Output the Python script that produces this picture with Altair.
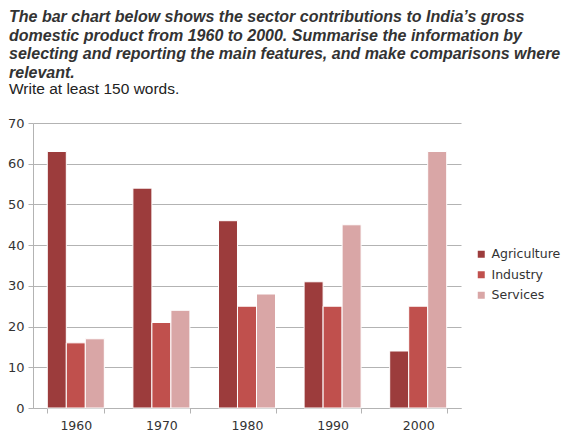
import altair as alt
import pandas as pd

years = ["1960", "1970", "1980", "1990", "2000"]
sectors = ["Agriculture", "Industry", "Services"]
agriculture = [63, 54, 46, 31, 14]
industry = [16, 21, 25, 25, 25]
services = [17, 24, 28, 45, 63]
colors = ["#9c3c3c", "#c0504d", "#d9a6a6"]

title_lines = [
    "The bar chart below shows the sector contributions to India\u2019s gross",
    "domestic product from 1960 to 2000. Summarise the information by",
    "selecting and reporting the main features, and make comparisons where",
    "relevant.",
]
subtitle_text = "Write at least 150 words."

rows = []
for i, y in enumerate(years):
    for s, vals in zip(sectors, [agriculture, industry, services]):
        rows.append({"year": y, "sector": s, "value": vals[i]})
df = pd.DataFrame(rows)

W, H = 428, 285

chart = alt.Chart(df).mark_bar(stroke="white", strokeWidth=1).encode(
    x=alt.X("year:N", sort=years, title=None,
            scale=alt.Scale(paddingInner=0.334, paddingOuter=0.167),
            axis=alt.Axis(labelAngle=0, tickBand="extent", domain=True,
                          domainColor="#b3b3b3", tickColor="#b3b3b3", tickSize=5,
                          labelFont="DejaVu Sans", labelFontSize=12.5,
                          labelColor="#333333", labelPadding=6, grid=False)),
    xOffset=alt.XOffset("sector:N", sort=sectors, scale=alt.Scale(paddingInner=0, paddingOuter=0)),
    y=alt.Y("value:Q", title=None,
            scale=alt.Scale(domain=[0, 70], nice=False),
            axis=alt.Axis(values=[0, 10, 20, 30, 40, 50, 60, 70], grid=True,
                          gridColor="#b3b3b3", domainColor="#b3b3b3",
                          tickColor="#b3b3b3", tickSize=5,
                          labelFont="DejaVu Sans", labelFontSize=13,
                          labelColor="#333333", labelPadding=4)),
    color=alt.Color("sector:N", sort=sectors,
                    scale=alt.Scale(domain=sectors, range=colors),
                    legend=alt.Legend(title=None, orient="none", legendX=442, legendY=125,
                                      symbolType="square", symbolSize=49,
                                      symbolStrokeWidth=0,
                                      labelFont="DejaVu Sans", labelFontSize=12.5,
                                      labelColor="#333333", rowPadding=7.5,
                                      labelOffset=4, padding=0)),
).properties(
    width=W, height=H,
    title=alt.TitleParams(
        text=title_lines, subtitle=subtitle_text,
        anchor="start", frame="group", dx=-24, offset=20,
        font="Liberation Sans", fontSize=16, fontStyle="italic", fontWeight="bold",
        color="#333333", lineHeight=18.5,
        subtitleFont="Liberation Sans", subtitleFontSize=15.5,
        subtitleColor="#222222", subtitleLineHeight=18, subtitlePadding=1,
    ),
    autosize=alt.AutoSizeParams(type="none"),
    padding={"left": 25, "top": 115, "right": 101, "bottom": 23},
).configure_view(stroke=None)

chart.save("out.html", embed_options={"renderer": "svg", "actions": False})
